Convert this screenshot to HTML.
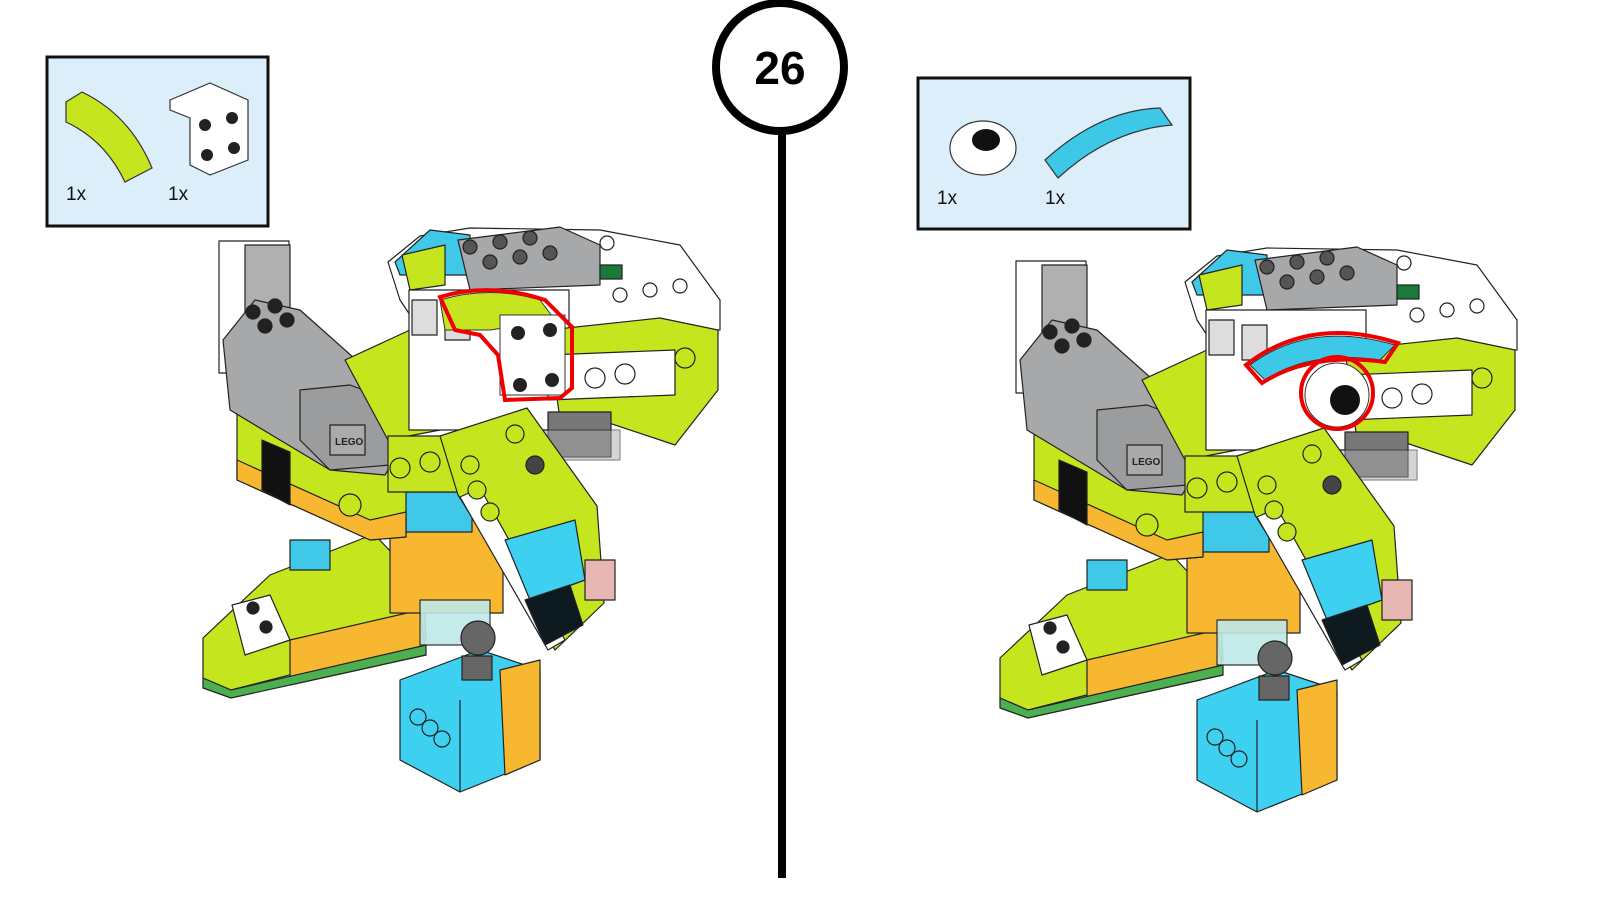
<!DOCTYPE html>
<html><head><style>
html,body{margin:0;padding:0;background:#fff;}
svg{display:block;}
text{font-family:"Liberation Sans",sans-serif;}
</style></head><body>
<svg width="1600" height="900" viewBox="0 0 1600 900" xmlns="http://www.w3.org/2000/svg">
<defs>
<g id="model" stroke="#222" stroke-width="1.2" stroke-linejoin="round">
  <!-- tail -->
  <polygon points="203,638 270,575 374,534 423,586 426,640 231,690 203,678" fill="#c5e61e"/>
  <polygon points="290,640 420,610 426,655 290,685" fill="#f7b731"/>
  <polygon points="203,678 231,690 426,645 426,655 231,698 203,688" fill="#4caf50"/>
  <polygon points="232,605 270,595 290,640 245,655" fill="#fff"/>
  <circle cx="253" cy="608" r="6" fill="#222"/><circle cx="266" cy="627" r="6" fill="#222"/>
  <rect x="290" y="540" width="40" height="30" fill="#3fc8e8"/>
  <!-- blue block bottom -->
  <polygon points="400,680 480,650 540,670 540,760 460,792 400,760" fill="#3dd0f0"/>
  <polygon points="500,670 540,660 540,760 505,775" fill="#f7b731"/>
  <line x1="460" y1="700" x2="460" y2="792"/>
  <circle cx="418" cy="717" r="8" fill="#3dd0f0"/><circle cx="430" cy="728" r="8" fill="#3dd0f0"/><circle cx="442" cy="739" r="8" fill="#3dd0f0"/>
  <rect x="462" y="656" width="30" height="24" fill="#666"/>
  <!-- torso -->
  <rect x="390" y="488" width="113" height="125" fill="#f7b731"/>
  <rect x="392" y="492" width="80" height="40" fill="#3fc8e8"/>
  <rect x="420" y="600" width="70" height="45" fill="#bfe8e8" opacity=".9"/>
  <circle cx="478" cy="638" r="17" fill="#666"/>
  <!-- body under motor -->
  <polygon points="237,394 406,430 406,537 370,540 237,480" fill="#c5e61e"/>
  <polygon points="237,460 370,520 406,512 406,537 370,540 237,480" fill="#f7b731"/>
  <polygon points="262,440 290,452 290,505 262,490" fill="#111"/>
  <circle cx="350" cy="505" r="11" fill="#c5e61e"/>
  <!-- motor -->
  <rect x="219" y="241" width="70" height="132" fill="#fff"/>
  <rect x="245" y="245" width="45" height="70" fill="#b0b0b0"/>
  <polygon points="223,340 255,300 300,310 390,390 404,445 385,475 330,470 230,410" fill="#a6a8aa"/>
  <polygon points="300,390 350,385 390,400 390,465 330,470 300,440" fill="#9a9c9e"/>
  <rect x="330" y="425" width="35" height="30" fill="#aaa"/>
  <text x="335" y="445" font-size="10" font-weight="bold" fill="#222" stroke="none">LEGO</text>
  <circle cx="253" cy="312" r="7" fill="#222"/><circle cx="275" cy="306" r="7" fill="#222"/><circle cx="265" cy="326" r="7" fill="#222"/><circle cx="287" cy="320" r="7" fill="#222"/>
  <!-- green mid -->
  <polygon points="345,360 410,330 440,430 388,440" fill="#c5e61e"/>
  <rect x="388" y="436" width="77" height="56" fill="#c5e61e"/>
  <circle cx="400" cy="468" r="10" fill="#c5e61e"/><circle cx="430" cy="462" r="10" fill="#c5e61e"/>
  <!-- hub top -->
  <polygon points="388,262 420,236 470,228 600,230 680,245 720,300 720,330 420,330 400,300" fill="#fff"/>
  <polygon points="395,262 430,230 470,235 470,275 400,275" fill="#3fc8e8"/>
  <polygon points="458,240 560,227 600,245 600,285 470,290" fill="#a6a8aa"/>
  <circle cx="470" cy="247" r="7" fill="#555"/><circle cx="500" cy="242" r="7" fill="#555"/><circle cx="530" cy="238" r="7" fill="#555"/><circle cx="490" cy="262" r="7" fill="#555"/><circle cx="520" cy="257" r="7" fill="#555"/><circle cx="550" cy="253" r="7" fill="#555"/>
  <polygon points="402,255 445,245 445,285 410,290" fill="#c5e61e"/>
  <rect x="600" y="265" width="22" height="14" fill="#1a7a3a"/>
  <circle cx="607" cy="243" r="7" fill="#fff"/><circle cx="620" cy="295" r="7" fill="#fff"/><circle cx="650" cy="290" r="7" fill="#fff"/><circle cx="680" cy="286" r="7" fill="#fff"/>
  <rect x="409" y="290" width="160" height="140" fill="#fff"/>
  <rect x="412" y="300" width="25" height="35" fill="#ddd"/><rect x="445" y="305" width="25" height="35" fill="#ddd"/>
  <!-- beak -->
  <polygon points="548,330 660,318 718,330 718,390 675,445 600,420 560,420" fill="#c5e61e"/>
  <polygon points="548,355 675,350 675,395 548,400" fill="#fff"/>
  <circle cx="595" cy="378" r="10" fill="#fff"/><circle cx="625" cy="374" r="10" fill="#fff"/>
  <circle cx="685" cy="358" r="10" fill="#c5e61e"/>
  <rect x="548" y="412" width="63" height="45" fill="#777"/>
  <rect x="540" y="430" width="80" height="30" fill="#aaa" opacity=".5"/>
  <!-- arm -->
  <polygon points="440,436 527,408 597,506 604,603 555,650 458,495" fill="#c5e61e"/>
  <polygon points="460,497 480,488 565,640 548,650" fill="#fff"/>
  <polygon points="505,540 575,520 585,580 530,600" fill="#3dd0f0"/>
  <polygon points="525,600 570,585 583,625 545,645" fill="#0d1a20"/>
  <circle cx="470" cy="465" r="9" fill="#c5e61e"/><circle cx="477" cy="490" r="9" fill="#c5e61e"/><circle cx="490" cy="512" r="9" fill="#c5e61e"/><circle cx="515" cy="434" r="9" fill="#c5e61e"/>
  <circle cx="535" cy="465" r="9" fill="#444"/>
  <rect x="585" y="560" width="30" height="40" fill="#e7b8b3"/>
</g>
</defs>

<!-- left parts box -->
<rect x="47" y="57" width="221" height="169" fill="#dbeefa" stroke="#111" stroke-width="3"/>
<path d="M66,102 L82,92 Q130,115 152,168 L125,182 Q105,140 66,122 Z" fill="#c5e61e" stroke="#333" stroke-width="1.2"/>
<polygon points="170,100 210,83 248,100 248,160 210,175 190,165 190,118 170,110" fill="#fff" stroke="#333" stroke-width="1.2"/>
<circle cx="205" cy="125" r="6" fill="#222"/><circle cx="232" cy="118" r="6" fill="#222"/><circle cx="207" cy="155" r="6" fill="#222"/><circle cx="234" cy="148" r="6" fill="#222"/>
<text x="66" y="200" font-size="19" fill="#111">1x</text>
<text x="168" y="200" font-size="19" fill="#111">1x</text>

<!-- right parts box -->
<rect x="918" y="78" width="272" height="151" fill="#dbeefa" stroke="#111" stroke-width="3"/>
<ellipse cx="983" cy="148" rx="33" ry="27" fill="#fff" stroke="#333" stroke-width="1.2"/>
<ellipse cx="986" cy="140" rx="14" ry="11" fill="#111"/>
<path d="M1045,160 Q1100,110 1160,108 L1172,125 Q1110,130 1058,178 Z" fill="#3dc8e8" stroke="#333" stroke-width="1.2"/>
<text x="937" y="204" font-size="19" fill="#111">1x</text>
<text x="1045" y="204" font-size="19" fill="#111">1x</text>

<!-- center step -->
<line x1="782" y1="125" x2="782" y2="878" stroke="#000" stroke-width="8"/>
<circle cx="780" cy="67" r="64" fill="#fff" stroke="#000" stroke-width="8"/>
<text x="780" y="84" font-size="46" font-weight="bold" text-anchor="middle" fill="#000">26</text>

<!-- left model -->
<use href="#model"/>
<path d="M440,300 Q490,285 540,300 L555,320 L490,330 L445,330 Z" fill="#c5e61e" stroke="#333"/>
<rect x="500" y="315" width="65" height="80" fill="#fff" stroke="#333"/>
<circle cx="518" cy="333" r="7" fill="#222"/><circle cx="550" cy="330" r="7" fill="#222"/><circle cx="520" cy="385" r="7" fill="#222"/><circle cx="552" cy="380" r="7" fill="#222"/>
<path d="M440,297 Q490,282 545,300 L572,327 L572,388 L560,398 L505,400 L498,355 L480,335 L455,330 Z" fill="none" stroke="#e00" stroke-width="4"/>

<!-- right model -->
<g transform="translate(797,20)"><use href="#model"/></g>
<path d="M1250,365 Q1310,320 1395,345 L1380,360 Q1310,350 1265,380 Z" fill="#3dc8e8" stroke="#333"/>
<path d="M1246,365 Q1310,315 1398,343 L1385,362 Q1310,352 1262,383 Z" fill="none" stroke="#e00" stroke-width="4"/>
<circle cx="1337" cy="395" r="32" fill="#fff" stroke="#333"/>
<circle cx="1345" cy="400" r="15" fill="#111"/>
<circle cx="1337" cy="393" r="36" fill="none" stroke="#e00" stroke-width="4"/>
</svg>
</body></html>
